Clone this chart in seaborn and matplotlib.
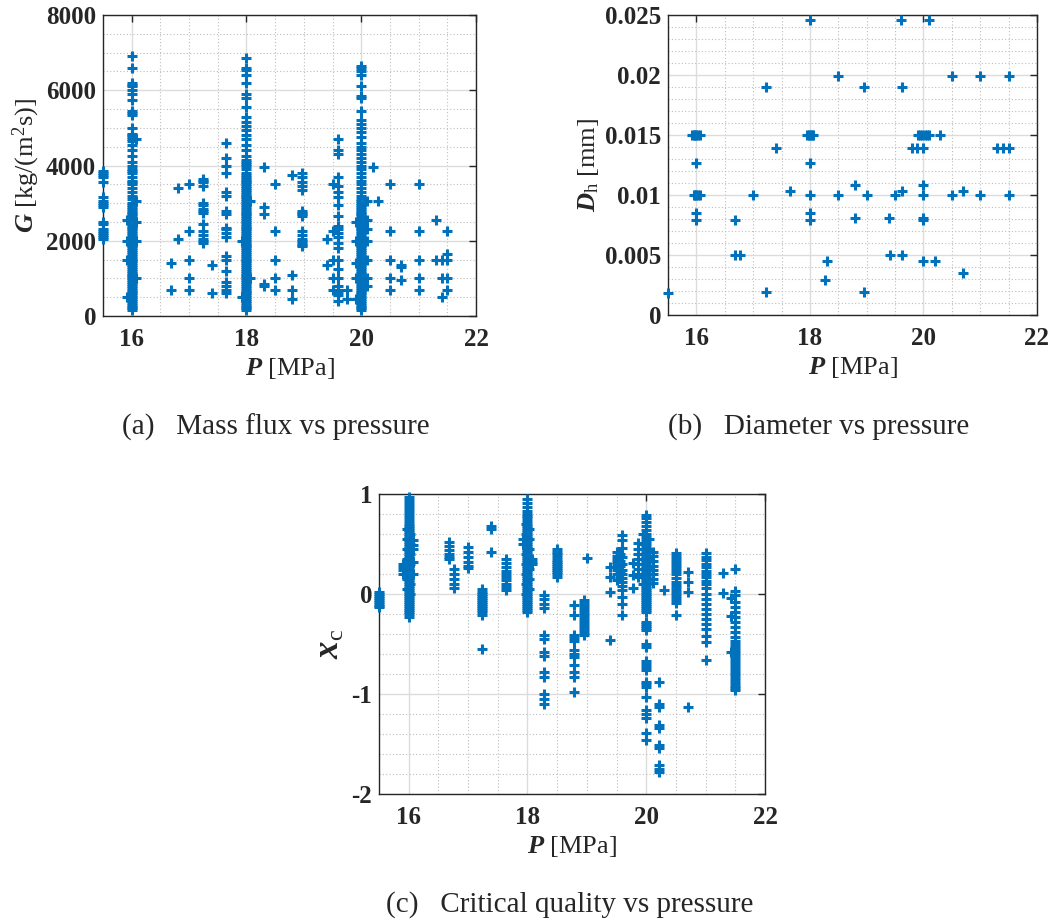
import matplotlib
matplotlib.use("Agg")
import matplotlib.pyplot as plt
import seaborn as sns
import pandas as pd
from matplotlib.ticker import MultipleLocator

# ---------------- data: panel (a) mass flux G [kg/(m2 s)] per pressure ----------------
G_155 = [2050, 2100, 2150, 2200, 2250, 2300, 2450, 2500, 2900, 2950, 3000, 3050, 3150, 3550, 3700, 3750, 3800, 3850]
G_16 = [150, 200, 250, 300, 350, 400, 450, 500, 550, 600, 650, 700, 750, 800, 850, 900, 950, 1000, 1050, 1100,
        1150, 1200, 1250, 1300, 1350, 1400, 1450, 1500, 1550, 1600, 1650, 1700, 1750, 1800, 1850, 1900, 1950, 2000,
        2050, 2100, 2150, 2200, 2250, 2300, 2350, 2400, 2450, 2500, 2550, 2600, 2650, 2700, 2750, 2800, 2850, 2900,
        2950, 3000, 3100, 3200, 3300, 3400, 3500, 3550, 3600, 3700, 3800, 3850, 3900, 4000, 4100, 4250, 4400, 4550,
        4650, 4700, 4750, 4800, 4850, 5000, 5350, 5400, 5450, 5750, 5900, 6000, 6100, 6150, 6200, 6600, 6900]
G_1592 = [500, 1500, 2000, 2550]
G_1607 = [1000, 2000, 2500, 3050, 4700]
G_1668 = [690, 1400]
G_168 = [2040, 3400]
G_17 = [700, 1000, 1500, 2250, 3500]
G_1725 = [1950, 2000, 2050, 2150, 2250, 2450, 2750, 2800, 2850, 2950, 3000, 3450, 3550, 3600, 3650]
G_174 = [600, 1350]
G_1765 = [600, 700, 800, 900, 1200, 1500, 1600, 2100, 2200, 2300, 2350, 2700, 2800, 3200, 3300, 3800, 4000, 4200, 4600]
G_18 = [150, 200, 250, 300, 350, 400, 450, 500, 550, 600, 650, 700, 750, 800, 850, 900, 950, 1000, 1050, 1100,
        1150, 1200, 1250, 1300, 1350, 1400, 1450, 1500, 1550, 1600, 1650, 1700, 1750, 1800, 1850, 1900, 1950, 2000,
        2050, 2100, 2150, 2200, 2250, 2300, 2350, 2400, 2450, 2500, 2550, 2600, 2650, 2700, 2750, 2800, 2850, 2900,
        2950, 3000, 3050, 3100, 3150, 3200, 3250, 3300, 3350, 3400, 3450, 3500, 3550, 3600, 3650, 3700, 3750, 3800,
        3900, 4000, 4050, 4100, 4150, 4250, 4400, 4550, 4700, 4800, 4950, 5050, 5150, 5300, 5550, 5800, 5900, 6200,
        6400, 6550, 6600, 6850]
G_1793 = [500, 2000]
G_1807 = [1000, 3050]
G_183 = [800, 850, 2700, 2900, 3950]
G_185 = [700, 1000, 1500, 2250, 3500]
G_188 = [450, 700, 1100, 3750]
G_1897 = [1850, 1900, 1950, 2000, 2050, 2150, 2250, 2650, 2700, 2750, 2800, 3350, 3450, 3550, 3700, 3800]
G_194 = [1350, 2050]
G_195 = [700, 1000, 1500, 2250, 3500]
G_196 = [400, 550, 650, 700, 800, 1000, 1250, 1500, 1800, 1950, 2100, 2200, 2300, 2400, 2650, 2950, 3150, 3300,
         3450, 3700, 4300, 4400, 4700]
G_1975 = [450, 700]
G_199 = [450, 1000, 1400, 2000, 2500]
G_20 = [150, 200, 250, 300, 350, 400, 450, 500, 550, 600, 650, 700, 750, 800, 850, 900, 950, 1000, 1050, 1100,
        1150, 1200, 1250, 1300, 1350, 1400, 1450, 1500, 1550, 1600, 1650, 1700, 1750, 1800, 1850, 1900, 1950, 2000,
        2050, 2100, 2150, 2200, 2250, 2300, 2350, 2400, 2450, 2500, 2550, 2600, 2650, 2700, 2750, 2800, 2850, 2900,
        2950, 3000, 3050, 3100, 3200, 3300, 3400, 3500, 3600, 3700, 3800, 3900, 4000, 4100, 4200, 4300, 4400, 4500,
        4600, 4750, 4900, 5000, 5100, 5200, 5450, 5800, 5850, 6100, 6400, 6500, 6600, 6650]
G_201 = [800, 1000, 1500, 2000, 2300, 2550, 3050]
G_202 = [3950]
G_203 = [3050]
G_205 = [700, 1000, 1500, 2250, 3500]
G_207 = [950, 1300, 1350]
G_21 = [700, 1000, 1500, 2250, 3500]
G_213 = [1500, 2550]
G_214 = [500, 1000, 1500]
G_215 = [700, 1000, 1500, 1650, 2250]

# ---------------- data: panel (b) hydraulic diameter (paired lists) ----------------
B_P = [15.5,
       15.92, 15.95, 15.98, 16.0, 16.03, 16.06, 16.0,
       15.95, 15.98, 16.0, 16.03, 16.06, 16.0, 16.0,
       16.68, 16.68, 16.77, 17.0, 17.23, 17.23, 17.4, 17.65,
       18.0, 17.95, 17.98, 18.0, 18.03, 18.06, 18.0, 18.0, 18.0, 18.0,
       18.26, 18.3, 18.5, 18.5, 18.8, 18.8, 18.95, 18.95, 19.0,
       19.4, 19.41, 19.49, 19.6, 19.62, 19.62, 19.62,
       19.79, 19.89, 20.0,
       19.9, 19.94, 19.98, 20.02, 20.06, 20.1, 20.29,
       20.0, 20.0, 20.0, 20.0, 20.0, 20.1, 20.2,
       20.5, 20.5, 20.69, 20.69, 21.0, 21.0,
       21.29, 21.4, 21.5, 21.5, 21.5]
B_D = [0.00186,
       0.015, 0.015, 0.015, 0.015, 0.015, 0.015, 0.0127,
       0.010, 0.010, 0.010, 0.010, 0.010, 0.0085, 0.0079,
       0.0079, 0.0050, 0.0050, 0.010, 0.0190, 0.0019, 0.0139, 0.0103,
       0.0246, 0.015, 0.015, 0.015, 0.015, 0.015, 0.0127, 0.010, 0.0085, 0.0079,
       0.0029, 0.0045, 0.0199, 0.010, 0.0108, 0.0081, 0.0190, 0.0019, 0.010,
       0.0081, 0.0050, 0.010, 0.0246, 0.0190, 0.0103, 0.0050,
       0.0139, 0.0139, 0.0139,
       0.015, 0.015, 0.015, 0.015, 0.015, 0.015, 0.015,
       0.0108, 0.010, 0.0081, 0.0079, 0.0045, 0.0246, 0.0045,
       0.0199, 0.010, 0.0103, 0.0035, 0.0199, 0.010,
       0.0139, 0.0139, 0.0139, 0.0199, 0.010]

# ---------------- data: panel (c) critical quality x_c per pressure ----------------
X_155 = [0.02, 0.0, -0.02, -0.04, -0.06, -0.08, -0.1, -0.12, -0.13]
X_16 = [0.97, 0.94, 0.91, 0.88, 0.85, 0.82, 0.79, 0.76, 0.73, 0.7, 0.68, 0.66, 0.64, 0.62, 0.6, 0.58, 0.56, 0.54,
        0.52, 0.5, 0.48, 0.46, 0.44, 0.42, 0.4, 0.38, 0.36, 0.34, 0.32, 0.3, 0.28, 0.26, 0.24, 0.22, 0.2, 0.18, 0.16,
        0.14, 0.12, 0.1, 0.08, 0.06, 0.04, 0.02, 0.0, -0.02, -0.04, -0.06, -0.08, -0.1, -0.12, -0.14, -0.16, -0.18,
        -0.2, -0.23]
X_159 = [0.3, 0.27, 0.24, 0.2]
X_1597 = [0.65, 0.55, 0.45, 0.35, 0.25, 0.15, 0.05]
X_1603 = [0.6, 0.5, 0.4, 0.3, 0.2, 0.1, 0.0]
X_1608 = [0.54, 0.49, 0.45, 0.32, 0.2]
X_1668 = [0.52, 0.48, 0.44, 0.4, 0.37, 0.35]
X_1677 = [0.25, 0.2, 0.15, 0.1, 0.06]
X_17 = [0.47, 0.42, 0.37, 0.32, 0.28, 0.26]
X_1723 = [0.05, 0.02, 0.0, -0.02, -0.04, -0.06, -0.08, -0.1, -0.12, -0.14, -0.16, -0.18, -0.21, -0.55]
X_1739 = [0.68, 0.65, 0.42]
X_1764 = [0.35, 0.31, 0.27, 0.23, 0.2, 0.17, 0.14, 0.1, 0.07, 0.04]
X_18 = [0.95, 0.91, 0.87, 0.83, 0.8, 0.78, 0.76, 0.73, 0.7, 0.68, 0.66, 0.64, 0.62, 0.6, 0.58, 0.56, 0.54, 0.52,
        0.5, 0.48, 0.46, 0.44, 0.42, 0.4, 0.38, 0.36, 0.34, 0.32, 0.3, 0.28, 0.26, 0.24, 0.22, 0.2, 0.18, 0.16, 0.14,
        0.12, 0.1, 0.08, 0.06, 0.04, 0.02, 0.0, -0.02, -0.04, -0.06, -0.08, -0.1, -0.12, -0.14, -0.16, -0.18]
X_1792 = [0.55, 0.5]
X_1797 = [0.7, 0.6, 0.5, 0.4, 0.3, 0.2, 0.1, 0.0]
X_1803 = [0.65, 0.55, 0.45, 0.35, 0.25, 0.15, 0.05]
X_1808 = [0.35, 0.32, 0.3]
X_183 = [-0.01, -0.05, -0.1, -0.14, -0.41, -0.45, -0.58, -0.62, -0.78, -0.83, -1.0, -1.05, -1.1]
X_185 = [0.45, 0.42, 0.4, 0.37, 0.34, 0.32, 0.3, 0.28, 0.26, 0.24, 0.22, 0.2, 0.17]
X_188 = [-0.11, -0.21, -0.41, -0.44, -0.47, -0.56, -0.6, -0.63, -0.71, -0.78, -0.83, -0.98]
X_1896 = [-0.06, -0.09, -0.12, -0.15, -0.18, -0.21, -0.24, -0.27, -0.3, -0.33, -0.36, -0.39, -0.41]
X_19 = [0.36]
X_194 = [0.27, 0.17, 0.02, -0.46]
X_195 = [0.42, 0.38, 0.35, 0.32, 0.3, 0.27, 0.24, 0.2, 0.14]
X_1955 = [0.4, 0.33, 0.28, 0.22, 0.16]
X_196 = [0.59, 0.54, 0.46, 0.37, 0.3, 0.24, 0.2, 0.16, 0.12, 0.08, 0.04, -0.03, -0.1, -0.21]
X_1978 = [0.31, 0.19, 0.06]
X_1986 = [0.51, 0.45, 0.4, 0.35, 0.3, 0.25, 0.2, 0.17]
X_20 = [0.79, 0.76, 0.72, 0.68, 0.64, 0.6, 0.57, 0.54, 0.51, 0.48, 0.45, 0.42, 0.4, 0.38, 0.36, 0.34, 0.32, 0.3,
        0.28, 0.26, 0.24, 0.22, 0.2, 0.18, 0.16, 0.14, 0.12, 0.1, 0.08, 0.06, 0.04, 0.02, 0.0, -0.02, -0.04, -0.06,
        -0.08, -0.1, -0.12, -0.14, -0.16, -0.18, -0.28, -0.3, -0.32, -0.34, -0.36, -0.5, -0.53, -0.67, -0.7, -0.73,
        -0.76, -0.88, -0.9, -0.93, -1.03, -1.16, -1.2, -1.24, -1.39, -1.46]
X_1995 = [0.6, 0.5, 0.4, 0.3, 0.2, 0.1]
X_2005 = [0.55, 0.45, 0.35, 0.25, 0.15]
X_201 = [0.42, 0.38, 0.33, 0.28, 0.24, 0.2, 0.15, 0.11]
X_202 = [-0.88, -1.1, -1.13, -1.31, -1.34, -1.51, -1.54, -1.71, -1.75, -1.78]
X_203 = [0.04]
X_205 = [0.41, 0.38, 0.35, 0.32, 0.29, 0.26, 0.23, 0.2, 0.16, 0.12, 0.09, 0.06, 0.03, 0.0, -0.03, -0.06, -0.09, -0.21]
X_207 = [0.22, 0.12, 0.02, -1.13]
X_21 = [0.41, 0.37, 0.34, 0.3, 0.27, 0.23, 0.2, 0.17, 0.13, 0.1, 0.06, 0.0, -0.05, -0.1, -0.15, -0.2, -0.25, -0.3,
        -0.35, -0.42, -0.48, -0.66]
X_213 = [0.21, 0.01]
X_214 = [-0.04, -0.22, -0.58]
X_215 = [0.25, 0.03, -0.01, -0.08, -0.13, -0.18, -0.23, -0.28, -0.33, -0.38, -0.43, -0.47, -0.5, -0.53, -0.56,
         -0.59, -0.62, -0.65, -0.68, -0.71, -0.74, -0.77, -0.8, -0.83, -0.86, -0.89, -0.92, -0.94, -0.96]

GROUPS_A = [(15.5, G_155), (16.0, G_16), (15.92, G_1592), (16.07, G_1607), (16.68, G_1668), (16.8, G_168),
            (17.0, G_17), (17.25, G_1725), (17.4, G_174), (17.65, G_1765), (18.0, G_18), (17.93, G_1793),
            (18.07, G_1807), (18.3, G_183), (18.5, G_185), (18.8, G_188), (18.97, G_1897), (19.4, G_194),
            (19.5, G_195), (19.6, G_196), (19.75, G_1975), (19.9, G_199), (20.0, G_20), (20.1, G_201),
            (20.2, G_202), (20.3, G_203), (20.5, G_205), (20.7, G_207), (21.0, G_21), (21.3, G_213),
            (21.4, G_214), (21.5, G_215)]
GROUPS_C = [(15.5, X_155), (16.0, X_16), (15.9, X_159), (15.97, X_1597), (16.03, X_1603), (16.08, X_1608),
            (16.68, X_1668), (16.77, X_1677), (17.0, X_17), (17.23, X_1723), (17.39, X_1739), (17.64, X_1764),
            (18.0, X_18), (17.92, X_1792), (17.97, X_1797), (18.03, X_1803), (18.08, X_1808), (18.28, X_183),
            (18.5, X_185), (18.79, X_188), (18.96, X_1896), (19.0, X_19), (19.39, X_194), (19.5, X_195),
            (19.55, X_1955), (19.6, X_196), (19.78, X_1978), (19.86, X_1986), (20.0, X_20), (19.95, X_1995),
            (20.05, X_2005), (20.12, X_201), (20.22, X_202), (20.3, X_203), (20.5, X_205), (20.7, X_207),
            (21.0, X_21), (21.3, X_213), (21.42, X_214), (21.5, X_215)]


def table(groups):
    rows = [(p, v) for p, vals in groups for v in vals]
    return pd.DataFrame(rows, columns=["P", "V"])


df_a = table(GROUPS_A)
df_b = pd.DataFrame({"P": B_P, "V": B_D})
df_c = table(GROUPS_C)

# ---------------- style ----------------
sns.set_style("white")
plt.rcParams["font.family"] = ["Liberation Serif", "DejaVu Serif"]
plt.rcParams["mathtext.fontset"] = "custom"
plt.rcParams["mathtext.rm"] = "Liberation Serif"
plt.rcParams["mathtext.it"] = "Liberation Serif:italic"
plt.rcParams["mathtext.bf"] = "Liberation Serif:bold"
plt.rcParams["mathtext.bfit"] = "Liberation Serif:italic:bold"
plt.rcParams["axes.unicode_minus"] = False

BLUE = "#0072BD"
TICK_FS = 18
LABEL_FS = 19
CAP_FS = 21

fig = plt.figure(figsize=(10.53, 9.21), dpi=100)
ax_a = fig.add_axes([0.0978, 0.6569, 0.3543, 0.3268])
ax_b = fig.add_axes([0.6344, 0.6580, 0.3504, 0.3257])
ax_c = fig.add_axes([0.3599, 0.1379, 0.3666, 0.3257])


def style(ax, df, ylim, ymaj, ymin, yticklabels, xlabel, ylabel, ylabel_fs=LABEL_FS):
    sns.scatterplot(data=df, x="P", y="V", ax=ax, marker="+", s=56, linewidth=2.2,
                    color=BLUE, clip_on=False, legend=False, zorder=3)
    ax.set_xlim(15.5, 22)
    ax.set_ylim(*ylim)
    xt = [16, 18, 20, 22]
    ax.set_xticks(xt)
    ax.set_xticklabels([str(t) for t in xt], fontweight="bold", fontsize=TICK_FS)
    ax.set_yticks(ymaj)
    ax.set_yticklabels(yticklabels, fontweight="bold", fontsize=TICK_FS)
    ax.xaxis.set_minor_locator(MultipleLocator(0.5))
    ax.yaxis.set_minor_locator(MultipleLocator(ymin))
    ax.grid(True, which="major", color="#dcdcdc", lw=1.0, ls="-")
    ax.grid(True, which="minor", color="#bdbdbd", lw=0.8, ls=(0, (1, 2)))
    ax.set_axisbelow(True)
    ax.tick_params(which="major", direction="in", length=5, width=1, top=True, right=True,
                   colors="#262626", labelcolor="#262626")
    ax.tick_params(axis="x", which="major", pad=9)
    ax.tick_params(axis="y", which="major", pad=5)
    ax.tick_params(which="minor", length=0)
    for sp in ax.spines.values():
        sp.set_color("#262626")
        sp.set_linewidth(1.0)
        sp.set_visible(True)
    ax.set_xlabel(xlabel, fontsize=LABEL_FS, color="#262626", labelpad=3)
    ax.set_ylabel(ylabel, fontsize=ylabel_fs, color="#262626", labelpad=3)


style(ax_a, df_a, (0, 8000), [0, 2000, 4000, 6000, 8000], 500,
      ["0", "2000", "4000", "6000", "8000"],
      r"$\mathbfit{P}\ \mathrm{[MPa]}$", r"$\mathbfit{G}\ \mathrm{[kg/(m^{2}s)]}$")
style(ax_b, df_b, (0, 0.025), [0, 0.005, 0.01, 0.015, 0.02, 0.025], 0.001,
      ["0", "0.005", "0.01", "0.015", "0.02", "0.025"],
      r"$\mathbfit{P}\ \mathrm{[MPa]}$", r"$\mathbfit{D}_{\mathrm{h}}\ \mathrm{[mm]}$")
style(ax_c, df_c, (-2, 1), [-2, -1, 0, 1], 0.2,
      ["-2", "-1", "0", "1"],
      r"$\mathbfit{P}\ \mathrm{[MPa]}$", r"$\mathbfit{x}_{\mathrm{c}}$", ylabel_fs=25)

fig.text(0.262, 0.5364, "(a)   Mass flux vs pressure", fontsize=CAP_FS, ha="center", va="center")
fig.text(0.777, 0.5364, "(b)   Diameter vs pressure", fontsize=CAP_FS, ha="center", va="center")
fig.text(0.541, 0.0174, "(c)   Critical quality vs pressure", fontsize=CAP_FS, ha="center", va="center")

fig.savefig("out.png", dpi=100)
